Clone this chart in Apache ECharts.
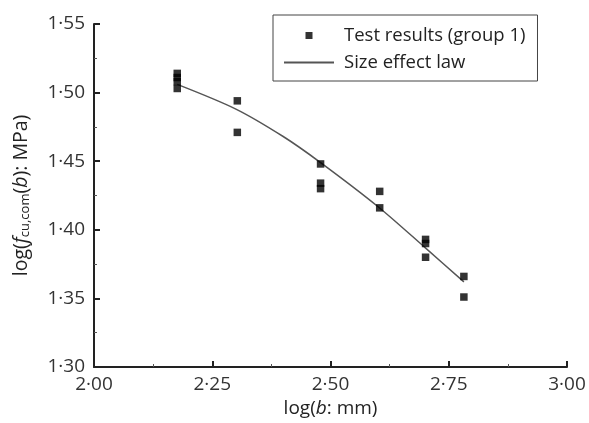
<!DOCTYPE html>
<html lang="en">

<head>
    <meta charset="UTF-8">
    <title>size effect</title>
    <script type="text/javascript" src="https://cdn.jsdelivr.net/npm/echarts@6/dist/echarts.min.js"></script>
</head>

<body style="margin: 0;">
    <div id="main" style="width: 589px; height: 423px;"></div>
    <script>
        // test results (group 1)
        var testX = [2.176, 2.176, 2.176, 2.176, 2.303, 2.303, 2.479, 2.479, 2.479, 2.604, 2.604, 2.701, 2.701, 2.701, 2.782, 2.782];
        var testY = [1.514, 1.511, 1.508, 1.503, 1.494, 1.471, 1.448, 1.434, 1.430, 1.428, 1.416, 1.393, 1.390, 1.380, 1.366, 1.351];
        // size effect law curve
        var lawX = [2.176, 2.30, 2.40, 2.479, 2.60, 2.70, 2.782];
        var lawY = [1.506, 1.488, 1.468, 1.449, 1.417, 1.387, 1.362];

        var names = ['Test results (group 1)', 'Size effect law'];

        var font = 'Open Sans';
        var fmt = function (v) { return v.toFixed(2).replace('.', '\u00b7'); };

        var myChart = echarts.init(document.getElementById('main'));
        myChart.setOption({
            animation: false,
            textStyle: { fontFamily: font },
            grid: { left: 94, right: 22, top: 24, bottom: 53 },
            legend: {
                orient: 'vertical',
                left: 273,
                top: 15,
                padding: [10, 12, 8, 10],
                itemGap: 6,
                itemWidth: 50,
                itemHeight: 7,
                borderColor: '#444',
                borderWidth: 1,
                textStyle: { fontSize: 18.5, color: '#222', lineHeight: 21, padding: [0, 0, 0, 5] },
                data: [
                    { name: names[0], icon: 'path://M0,0L1,0L1,1L0,1Z' },
                    { name: names[1], itemStyle: { color: 'transparent', borderColor: 'transparent', borderWidth: 0 } }
                ]
            },
            xAxis: {
                type: 'value',
                min: 2, max: 3, interval: 0.25,
                name: 'log({i|b}: mm)',
                nameLocation: 'middle',
                nameGap: 32,
                nameTextStyle: {
                    fontSize: 19, color: '#222',
                    rich: { i: { fontStyle: 'italic', fontSize: 19, color: '#222' } }
                },
                axisLine: { lineStyle: { color: '#222', width: 2 } },
                axisTick: { inside: true, length: 6, lineStyle: { color: '#222', width: 2 } },
                minorTick: { show: true, splitNumber: 2, length: 3, lineStyle: { color: '#555', width: 1 } },
                splitLine: { show: false },
                axisLabel: { fontSize: 19, color: '#333', margin: 8, formatter: fmt }
            },
            yAxis: {
                type: 'value',
                min: 1.3, max: 1.55, interval: 0.05,
                name: 'log({i|f}{sub|cu,com}({i|b}): MPa)',
                nameLocation: 'middle',
                nameGap: 62,
                nameTextStyle: {
                    fontSize: 19.5, color: '#222',
                    rich: {
                        i: { fontStyle: 'italic', fontSize: 19.5, color: '#222' },
                        sub: { fontSize: 13, color: '#222', verticalAlign: 'bottom', padding: [9, 0, 0, 0] }
                    }
                },
                axisLine: { lineStyle: { color: '#222', width: 2 } },
                axisTick: { inside: true, length: 6, lineStyle: { color: '#222', width: 2 } },
                minorTick: { show: true, splitNumber: 2, length: 3, lineStyle: { color: '#555', width: 1 } },
                splitLine: { show: false },
                axisLabel: { fontSize: 19, color: '#333', margin: 9, formatter: fmt }
            },
            series: [
                {
                    name: names[0],
                    type: 'scatter',
                    symbol: 'rect',
                    symbolSize: 7.5,
                    itemStyle: { color: '#000' },
                    data: testX.map(function (x, i) { return [x, testY[i]]; }),
                    z: 3
                },
                {
                    name: names[1],
                    type: 'line',
                    smooth: 0.3,
                    showSymbol: false,
                    symbol: 'none',
                    itemStyle: { color: '#555' },
                    lineStyle: { color: '#555', width: 1.5 },
                    data: lawX.map(function (x, i) { return [x, lawY[i]]; }),
                    z: 2
                }
            ]
        });
    </script>
</body>

</html>
